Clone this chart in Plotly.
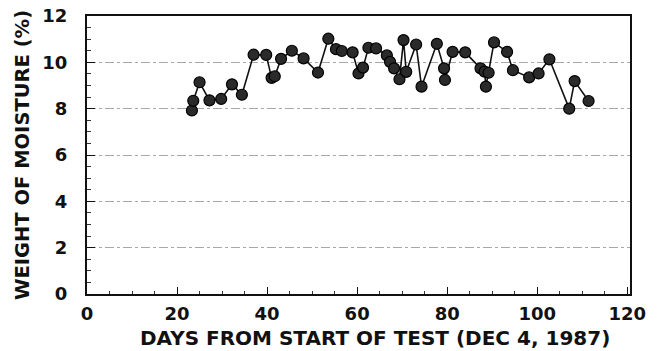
import plotly.graph_objects as go

days = [23.3, 23.6, 25.0, 27.2, 29.8, 32.2, 34.4, 37.0, 39.8, 41.0, 41.7, 43.1,
        45.5, 48.1, 51.3, 53.6, 55.3, 56.6, 59.0, 60.3, 61.3, 62.5, 64.2, 66.6,
        67.3, 68.2, 69.4, 70.3, 70.9, 73.1, 74.3, 77.7, 79.3, 79.5, 81.2, 84.0,
        87.4, 88.3, 88.6, 89.2, 90.4, 93.3, 94.6, 98.2, 100.3, 102.7, 107.1,
        108.3, 111.4]
moisture = [7.92, 8.34, 9.14, 8.36, 8.42, 9.05, 8.6, 10.33, 10.32, 9.33, 9.4,
            10.15, 10.5, 10.17, 9.56, 11.02, 10.57, 10.49, 10.43, 9.52, 9.77,
            10.63, 10.6, 10.3, 10.02, 9.74, 9.27, 10.96, 9.59, 10.77, 8.95,
            10.8, 9.74, 9.24, 10.45, 10.43, 9.74, 9.6, 8.95, 9.55, 10.86,
            10.45, 9.66, 9.35, 9.52, 10.13, 8.0, 9.19, 8.33]

x_ticks = [0, 20, 40, 60, 80, 100, 120]
y_ticks = [0, 2, 4, 6, 8, 10, 12]
x_title = "DAYS FROM START OF TEST (DEC 4, 1987)"
y_title = "WEIGHT OF MOISTURE (%)"

fig = go.Figure()
fig.add_trace(go.Scatter(
    x=days, y=moisture, mode="lines+markers",
    line=dict(color="#111111", width=1.6),
    marker=dict(size=11, color="#2a2a2a", line=dict(color="#000000", width=1.2)),
    showlegend=False,
))

font = dict(family="DejaVu Sans, sans-serif", color="#111111", weight="bold")

fig.update_layout(
    width=665, height=351,
    margin=dict(l=87, r=35, t=16, b=57, autoexpand=False),
    paper_bgcolor="white", plot_bgcolor="white",
    font=font,
)
fig.add_annotation(
    text=x_title, xref="paper", yref="paper", x=0.53, y=-0.158,
    xanchor="center", yanchor="middle", showarrow=False,
    font=dict(size=20, **font),
)
fig.update_xaxes(
    automargin=False,
    range=[0, 120.6], tickvals=x_ticks, ticktext=[str(v) for v in x_ticks],
    tickfont=dict(size=18, **font),
    showgrid=False, zeroline=False,
    showline=True, linecolor="#111111", linewidth=2, mirror=True,
    ticks="inside", ticklen=7, tickwidth=1.2, tickcolor="#111111",
    minor=dict(dtick=5, ticks="inside", ticklen=3, tickcolor="#333333", tickwidth=1),
    ticklabelstandoff=2,
)
fig.update_yaxes(
    automargin=False,
    range=[0, 12], tickvals=y_ticks, ticktext=[str(v) for v in y_ticks],
    tickfont=dict(size=18, **font),
    showgrid=True, gridcolor="#a8a8a8", gridwidth=1, griddash="dashdot",
    zeroline=False,
    showline=True, linecolor="#111111", linewidth=2, mirror=True,
    ticks="inside", ticklen=8, tickwidth=1.2, tickcolor="#111111",
    minor=dict(dtick=0.5, ticks="inside", ticklen=4, tickcolor="#333333",
               tickwidth=1, showgrid=False),
    ticklabelstandoff=14,
    title=dict(text=y_title, font=dict(size=19.5, **font), standoff=8),
)

fig.write_html("out.html")
